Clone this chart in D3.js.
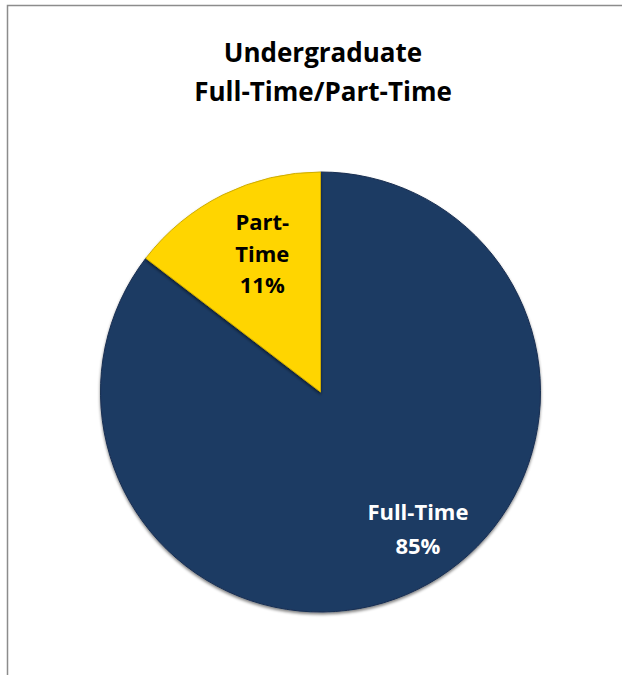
<!DOCTYPE html>
<html>
	<head>
		<title>Undergraduate Full-Time/Part-Time</title>
		<script src="https://d3js.org/d3.v7.min.js"></script>
		<style>
			body { margin: 0; background: #fff; }
			svg { display: block; }
			text { font-family: "Open Sans", Lato, sans-serif; font-weight: bold; }
		</style>
	</head>
	<body>
		<svg id="chart" width="622" height="675"></svg>
		<script>
			// data
			var categories = ["Full-Time", "Part-Time"];
			var values = [85.4, 14.6];
			var labels = ["85%", "11%"];
			var colors = ["#1f3a64", "#ffd500"];
			var titleLines = ["Undergraduate", "Full-Time/Part-Time"];

			var svg = d3.select("#chart");

			// chart frame (top and left edges only show)
			svg.append("path")
			.attr("d", "M7.5,675 L7.5,5.5 L622,5.5")
			.attr("fill", "none")
			.attr("stroke", "#8c8c8c")
			.attr("stroke-width", 1.5);

			// title
			svg.append("text")
			.attr("text-anchor", "middle")
			.attr("font-size", 26)
			.attr("fill", "#000")
			.selectAll("tspan")
			.data(titleLines)
			.enter()
			.append("tspan")
			.attr("x", 323)
			.attr("y", function(d, i) { return 62 + i * 39; })
			.text(function(d) { return d; });

			var cx = 320.5, cy = 392, r = 220;

			var defs = svg.append("defs");
			var shadow = defs.append("filter")
			.attr("id", "shadow")
			.attr("x", "-20%").attr("y", "-20%")
			.attr("width", "140%").attr("height", "140%");
			shadow.append("feGaussianBlur")
			.attr("in", "SourceAlpha")
			.attr("stdDeviation", 1.5)
			.attr("result", "blur");
			shadow.append("feOffset")
			.attr("in", "blur")
			.attr("dx", 0)
			.attr("dy", 1.5)
			.attr("result", "off");
			shadow.append("feComponentTransfer")
			.attr("in", "off")
			.attr("result", "offA")
			.append("feFuncA")
			.attr("type", "linear")
			.attr("slope", 0.5);
			var merge = shadow.append("feMerge");
			merge.append("feMergeNode").attr("in", "offA");
			merge.append("feMergeNode").attr("in", "SourceGraphic");

			var pie = d3.pie().sort(null).value(function(d) { return d; });
			var arcs = pie(values);

			var arc = d3.arc().innerRadius(0).outerRadius(r);

			var g = svg.append("g")
			.attr("transform", "translate(" + cx + "," + cy + ")");

			g.selectAll("path.slice")
			.data(arcs)
			.enter()
			.append("path")
			.attr("class", "slice")
			.attr("d", arc)
			.attr("fill", function(d, i) { return colors[i]; })
			.attr("stroke", function(d, i) { return d3.color(colors[i]).darker(0.6); })
			.attr("stroke-width", 1)
			.attr("filter", "url(#shadow)");

			// labels
			var labelArc = [
				d3.arc().innerRadius(168).outerRadius(168),
				d3.arc().innerRadius(150).outerRadius(150)
			];
			var labelLines = [
				["Full-Time", labels[0]],
				["Part-", "Time", labels[1]]
			];
			var labelShift = [-0.16, 0.06];
			var labelGap = [34, 31.5];
			var labelColor = ["#ffffff", "#000000"];

			arcs.forEach(function(a, i) {
				var mid = (a.startAngle + a.endAngle) / 2 + labelShift[i];
				var c = labelArc[i].centroid({startAngle: mid, endAngle: mid});
				var lines = labelLines[i];
				var lh = labelGap[i];
				var t = g.append("text")
				.attr("text-anchor", "middle")
				.attr("font-size", 22)
				.attr("fill", labelColor[i]);
				lines.forEach(function(s, k) {
					t.append("tspan")
					.attr("x", c[0])
					.attr("y", c[1] + (k - (lines.length - 1) / 2) * lh + 8)
					.text(s);
				});
			});
		</script>
	</body>
</html>
